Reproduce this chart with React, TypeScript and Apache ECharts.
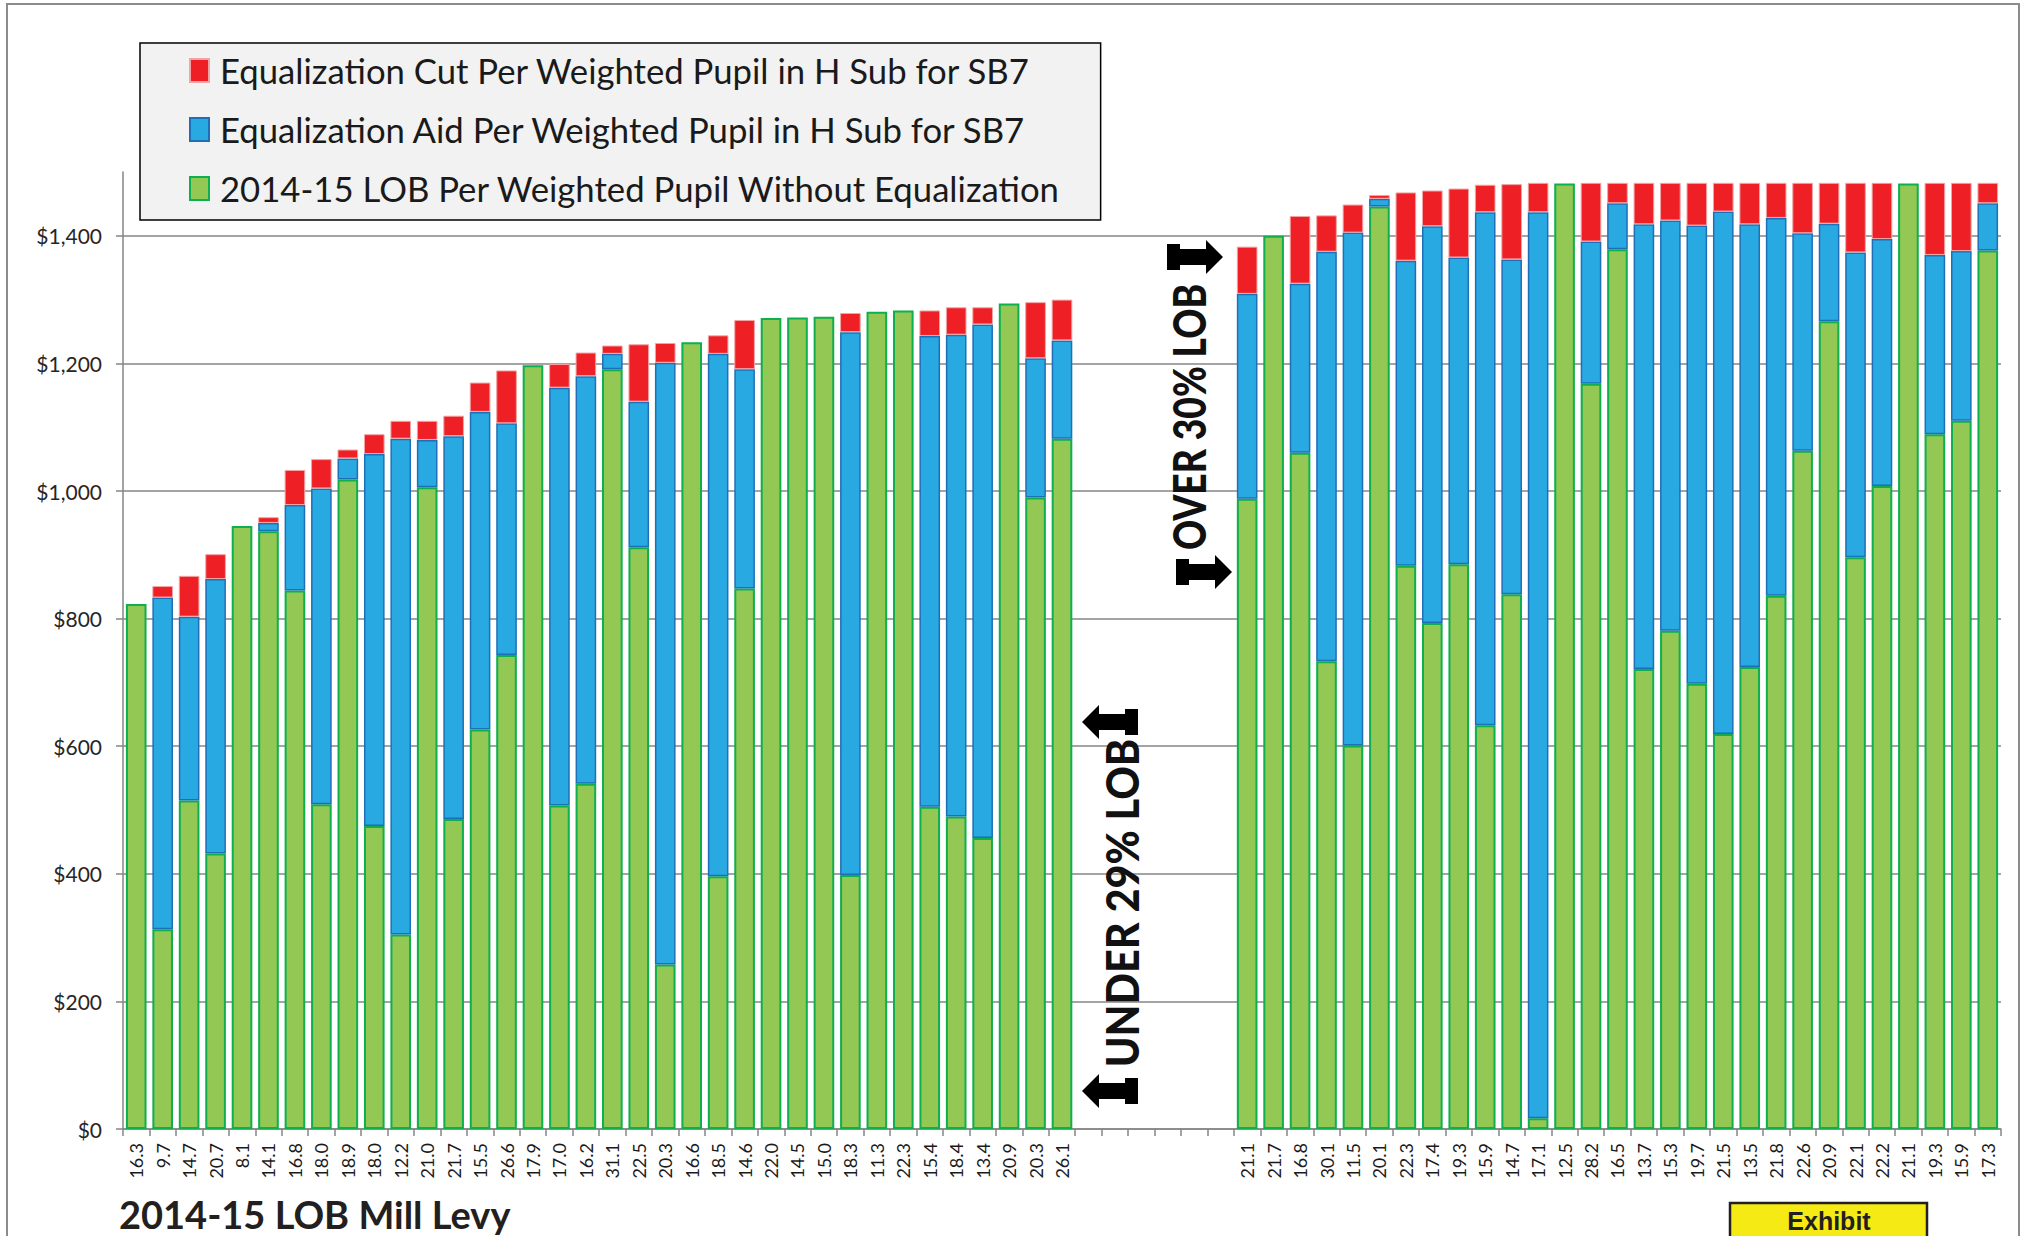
import React, { useEffect, useRef } from "react";
import * as echarts from "echarts";

// ---- Data ----
const leftLevy = ["16.3","9.7","14.7","20.7","8.1","14.1","16.8","18.0","18.9","18.0","12.2","21.0","21.7","15.5","26.6","17.9","17.0","16.2","31.1","22.5","20.3","16.6","18.5","14.6","22.0","14.5","15.0","18.3","11.3","22.3","15.4","18.4","13.4","20.9","20.3","26.1"];
const gapLabels = ["", "", "", "", "", ""];
const rightLevy = ["21.1","21.7","16.8","30.1","11.5","20.1","22.3","17.4","19.3","15.9","14.7","17.1","12.5","28.2","16.5","13.7","15.3","19.7","21.5","13.5","21.8","22.6","20.9","22.1","22.2","21.1","19.3","15.9","17.3"];

// 2014-15 LOB per weighted pupil without equalization (green)
const leftLob = [823,313,515,432,945,937,844,509,1018,475,305,1006,486,626,743,1197,507,541,1191,912,258,1233,396,847,1271,1272,1273,398,1281,1283,505,490,456,1294,990,1082];
const rightLob = [988,1400,1060,733,601,1446,883,793,885,633,838,17,1482,1168,1379,721,781,698,619,724,836,1063,1266,896,1008,1482,1089,1110,1377];
// Equalization aid per weighted pupil (blue)
const leftAid = [0,520,288,430,0,13,134,495,33,583,777,74,600,498,363,0,655,639,24,228,943,0,819,344,0,0,0,851,0,0,738,755,805,0,218,154];
const rightAid = [321,0,265,642,804,12,478,622,481,804,525,1420,0,223,72,697,643,718,819,694,592,341,153,478,387,0,281,266,74];
// Equalization cut per weighted pupil (red)
const leftCut = [0,18,64,39,0,9,55,46,14,31,28,30,32,46,83,0,37,37,13,90,31,0,29,77,0,0,0,30,0,0,40,43,27,0,88,64];
const rightCut = [74,0,106,57,44,6,107,56,108,43,118,46,0,92,32,65,59,67,45,65,55,79,64,109,88,0,113,107,32];

const yTicks = [0, 200, 400, 600, 800, 1000, 1200, 1400];

const seriesNames = {
  cut: "Equalization Cut Per Weighted Pupil in H Sub for SB7",
  aid: "Equalization Aid Per Weighted Pupil in H Sub for SB7",
  lob: "2014-15 LOB Per Weighted Pupil Without Equalization",
};

const FONT = "Lato, 'Noto Sans', sans-serif";

function build(left: number[], right: number[]) {
  const gap = gapLabels.map(() => "-");
  return [...left.map((v) => (v ? v : "-")), ...gap, ...right.map((v) => (v ? v : "-"))];
}

const ARROW = [[0,0],[17,-17],[17,-8],[43,-8],[43,-13],[56,-13],[56,13],[43,13],[43,8],[17,8],[17,17]];
function arrowLeft(tx: number, ty: number) {
  return ARROW.map(([x, y]) => [tx + x, ty + y]);
}
function arrowRight(tx: number, ty: number) {
  return ARROW.map(([x, y]) => [tx - x, ty + y]);
}

export default function App() {
  const ref = useRef<HTMLDivElement>(null);
  useEffect(() => {
    const chart = echarts.init(ref.current!, null, { renderer: "svg" });
    const categories = [...leftLevy, ...gapLabels, ...rightLevy];
    const option: any = {
      animation: false,
      backgroundColor: "#ffffff",
      grid: { left: 123, right: 22, top: 172, bottom: 107, containLabel: false },
      legend: {
        orient: "vertical",
        left: 140,
        top: 43,
        padding: [10, 40, 14, 49],
        itemGap: 24,
        itemWidth: 19,
        itemHeight: 23,
        backgroundColor: "#F2F2F2",
        borderColor: "#000000",
        borderWidth: 1.5,
        icon: "rect",
        data: [seriesNames.cut, seriesNames.aid, seriesNames.lob],
        textStyle: { fontFamily: FONT, fontSize: 34.7, color: "#1a1a1a", padding: [0, 0, 0, 6] },
      },
      xAxis: {
        type: "category",
        data: categories,
        axisLine: { lineStyle: { color: "#868686", width: 1.5 } },
        axisTick: { show: true, alignWithLabel: false, length: 7, lineStyle: { color: "#868686", width: 1.5 } },
        axisLabel: { rotate: 90, interval: 0, margin: 14, fontFamily: FONT, fontSize: 18, color: "#1a1a1a" },
        splitLine: { show: false },
      },
      yAxis: {
        type: "value",
        min: 0,
        max: 1500,
        interval: 200,
        axisLine: { show: true, lineStyle: { color: "#868686", width: 1.5 } },
        axisTick: { show: true, length: 7, lineStyle: { color: "#868686", width: 1.5 } },
        axisLabel: {
          showMaxLabel: false,
          margin: 21,
          fontFamily: FONT,
          fontSize: 21,
          color: "#262626",
          formatter: (v: number) => (yTicks.includes(v) ? "$" + v.toLocaleString("en-US") : ""),
        },
        splitLine: { show: true, showMaxLine: false, lineStyle: { color: "#868686", width: 1.5 } },
      },
      series: [
        {
          name: seriesNames.lob,
          type: "bar",
          stack: "total",
          barCategoryGap: "22%",
          data: build(leftLob, rightLob),
          itemStyle: { color: "#92C853", borderColor: "#0DAF4E", borderWidth: 2 },
        },
        {
          name: seriesNames.aid,
          type: "bar",
          stack: "total",
          barCategoryGap: "22%",
          data: build(leftAid, rightAid),
          itemStyle: { color: "#29A9E1", borderColor: "#1F6FB8", borderWidth: 1.5 },
        },
        {
          name: seriesNames.cut,
          type: "bar",
          stack: "total",
          barCategoryGap: "22%",
          data: build(leftCut, rightCut),
          itemStyle: { color: "#EE2026", borderColor: "#F3A3A3", borderWidth: 1 },
        },
      ],
      graphic: [
        {
          type: "rect",
          z: 0,
          silent: true,
          shape: { x: 7, y: 4, width: 2012, height: 1250 },
          style: { fill: "none", stroke: "#8C8C8C", lineWidth: 2 },
        },
        {
          type: "text",
          z: 10,
          x: 119,
          y: 1214,
          style: {
            text: "2014-15 LOB Mill Levy",
            fontFamily: FONT,
            fontWeight: "bold",
            fontSize: 38,
            fill: "#231F20",
            textAlign: "left",
            textVerticalAlign: "middle",
          },
        },
        {
          type: "rect",
          z: 10,
          shape: { x: 1730, y: 1203, width: 197, height: 50 },
          style: { fill: "#F5EA14", stroke: "#231F20", lineWidth: 2.5 },
        },
        {
          type: "text",
          z: 11,
          x: 1829,
          y: 1221,
          style: {
            text: "Exhibit",
            fontFamily: "'Liberation Sans', Arial, sans-serif",
            fontWeight: "bold",
            fontSize: 25,
            fill: "#231F20",
            textAlign: "center",
            textVerticalAlign: "middle",
          },
        },
        {
          type: "text",
          z: 10,
          x: 1121,
          y: 903,
          rotation: Math.PI / 2,
          scaleX: 0.9,
          style: {
            text: "UNDER 29% LOB",
            fontFamily: FONT,
            fontWeight: 900,
            fontSize: 46,
            fill: "#111111",
            textAlign: "center",
            textVerticalAlign: "middle",
          },
        },
        {
          type: "text",
          z: 10,
          x: 1188,
          y: 417,
          rotation: Math.PI / 2,
          scaleX: 0.81,
          style: {
            text: "OVER 30% LOB",
            fontFamily: FONT,
            fontWeight: 900,
            fontSize: 46,
            fill: "#111111",
            textAlign: "center",
            textVerticalAlign: "middle",
          },
        },
        { type: "polygon", z: 10, shape: { points: arrowLeft(1082, 722) }, style: { fill: "#000000" } },
        { type: "polygon", z: 10, shape: { points: arrowLeft(1082, 1091) }, style: { fill: "#000000" } },
        { type: "polygon", z: 10, shape: { points: arrowRight(1223, 257) }, style: { fill: "#000000" } },
        { type: "polygon", z: 10, shape: { points: arrowRight(1232, 572) }, style: { fill: "#000000" } },
      ],
    };
    chart.setOption(option);
    return () => chart.dispose();
  }, []);
  return (
    <div
      ref={ref}
      style={{ position: "fixed", left: 0, top: 0, width: 2023, height: 1236, background: "#ffffff" }}
    />
  );
}
